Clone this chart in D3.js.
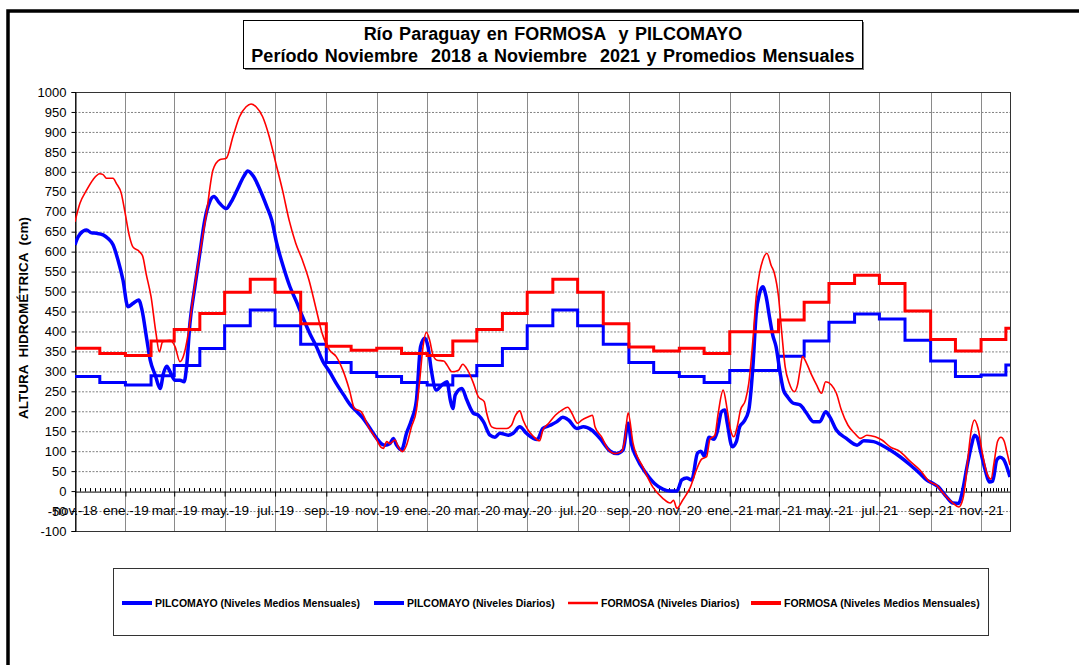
<!DOCTYPE html>
<html><head><meta charset="utf-8">
<script src="https://cdn.jsdelivr.net/npm/d3@7"></script>
<style>
html,body{margin:0;padding:0;background:#fff;}
svg{display:block;font-family:Arial,"Liberation Sans",sans-serif;}
</style></head><body>
<svg id="chart" width="1079" height="665"></svg>
<script>
// ---------- DATA ----------
const titleLines = ["Río Paraguay en FORMOSA  y PILCOMAYO",
                    "Período Noviembre  2018 a Noviembre  2021 y Promedios Mensuales"];
const yTitle = "ALTURA  HIDROMÉTRICA  (cm)";

const months = ["2018-11","2018-12",
  "2019-01","2019-02","2019-03","2019-04","2019-05","2019-06","2019-07","2019-08","2019-09","2019-10","2019-11","2019-12",
  "2020-01","2020-02","2020-03","2020-04","2020-05","2020-06","2020-07","2020-08","2020-09","2020-10","2020-11","2020-12",
  "2021-01","2021-02","2021-03","2021-04","2021-05","2021-06","2021-07","2021-08","2021-09","2021-10","2021-11","2021-12"];

const pilMonthly = [287,272,
  266,289,315,357,414,454,414,368,322,297,287,272,
  266,289,315,357,414,454,414,368,322,297,287,272,
  302,302,338,376,423,444,431,378,326,287,291,316];

const forMonthly = [358,345,
  340,376,405,445,498,531,498,419,363,353,358,345,
  340,376,405,445,498,531,498,419,361,351,358,345,
  399,399,429,473,520,541,520,451,380,351,380,408];

const pilDaily = [
 ["2018-11-01",617],["2018-11-03",629],["2018-11-07",644],["2018-11-15",654],["2018-11-21",647],["2018-11-27",646],
 ["2018-12-05",642],["2018-12-11",633],["2018-12-17",617],["2018-12-23",579],["2018-12-29",529],
 ["2019-01-04",462],["2019-01-10",470],["2019-01-17",479],["2019-01-21",454],["2019-01-27",378],["2019-01-31",328],
 ["2019-02-06",291],["2019-02-12",257],["2019-02-16",295],["2019-02-20",313],["2019-02-24",299],
 ["2019-03-02",278],["2019-03-08",278],["2019-03-13",274],["2019-03-16",312],["2019-03-20",420],["2019-03-26",512],
 ["2019-04-01",596],["2019-04-07",679],["2019-04-13",725],["2019-04-18",738],["2019-04-25",721],
 ["2019-05-03",708],["2019-05-09",725],["2019-05-16",754],["2019-05-24",788],["2019-05-29",802],
 ["2019-06-05",788],["2019-06-13",754],["2019-06-21",713],["2019-06-27",679],
 ["2019-07-03",621],["2019-07-11",562],["2019-07-19",512],["2019-07-27",474],
 ["2019-08-04",433],["2019-08-12",395],["2019-08-20",362],["2019-08-28",324],
 ["2019-09-05",299],["2019-09-13",270],["2019-09-22",241],["2019-09-30",216],
 ["2019-10-06",203],["2019-10-14",186],["2019-10-24",157],
 ["2019-11-01",132],["2019-11-07",118],["2019-11-11",115],["2019-11-17",119],["2019-11-21",132],["2019-11-25",115],
 ["2019-12-01",103],["2019-12-07",145],["2019-12-13",178],["2019-12-19",228],["2019-12-24",362],["2019-12-29",383],
 ["2020-01-02",362],["2020-01-06",303],["2020-01-12",253],["2020-01-19",266],["2020-01-25",274],["2020-01-29",228],
 ["2020-02-01",207],["2020-02-04",241],["2020-02-12",257],["2020-02-18",228],["2020-02-26",195],
 ["2020-03-03",190],["2020-03-09",174],["2020-03-17",140],["2020-03-23",135],["2020-03-29",145],
 ["2020-04-08",140],["2020-04-14",145],["2020-04-22",161],["2020-04-30",145],
 ["2020-05-13",129],["2020-05-20",157],["2020-05-29",165],
 ["2020-06-06",174],["2020-06-13",185],["2020-06-20",178],["2020-06-30",157],
 ["2020-07-08",161],["2020-07-18",153],["2020-07-28",132],
 ["2020-08-09",101],["2020-08-17",94],["2020-08-25",103],["2020-08-31",170],
 ["2020-09-04",119],["2020-09-10",85],["2020-09-22",44],
 ["2020-10-02",19],["2020-10-12",5],["2020-10-22",0],["2020-10-29",0],
 ["2020-11-04",28],["2020-11-10",33],["2020-11-16",28],["2020-11-23",95],["2020-11-27",100],
 ["2020-12-01",88],["2020-12-07",135],["2020-12-13",130],["2020-12-17",150],["2020-12-22",199],["2020-12-26",203],["2020-12-29",170],
 ["2021-01-04",111],["2021-01-09",124],["2021-01-13",161],["2021-01-18",174],["2021-01-24",203],["2021-01-29",312],
 ["2021-02-02",445],["2021-02-06",495],["2021-02-10",512],["2021-02-14",487],["2021-02-18",437],["2021-02-22",391],["2021-02-26",362],
 ["2021-03-03",295],["2021-03-07",253],["2021-03-12",236],["2021-03-19",220],["2021-03-27",216],
 ["2021-04-04",195],["2021-04-12",174],["2021-04-20",174],["2021-04-27",199],
 ["2021-05-02",186],["2021-05-10",153],["2021-05-22",132],
 ["2021-06-04",115],["2021-06-12",126],["2021-06-24",124],
 ["2021-07-04",115],["2021-07-14",103],["2021-07-26",86],
 ["2021-08-07",66],["2021-08-19",44],["2021-08-27",28],
 ["2021-09-04",19],["2021-09-10",11],["2021-09-20",-14],["2021-09-28",-30],
 ["2021-10-05",-31],["2021-10-09",-5],["2021-10-15",61],["2021-10-21",120],["2021-10-24",140],["2021-10-27",135],["2021-10-31",103],
 ["2021-11-06",53],["2021-11-11",23],["2021-11-15",25],["2021-11-20",78],["2021-11-24",85],["2021-11-28",80],
 ["2021-12-06",35]
];

const forDaily = [
 ["2018-11-01",675],["2018-11-07",721],["2018-11-15",754],["2018-11-23",781],
 ["2018-12-01",795],["2018-12-05",793],["2018-12-09",784],["2018-12-17",784],["2018-12-21",771],["2018-12-27",746],["2018-12-31",704],
 ["2019-01-06",637],["2019-01-10",612],["2019-01-18",600],["2019-01-22",588],["2019-01-26",545],
 ["2019-02-01",487],["2019-02-07",395],["2019-02-11",349],["2019-02-15",374],["2019-02-24",378],
 ["2019-03-02",362],["2019-03-08",324],["2019-03-12",337],["2019-03-18",395],["2019-03-24",487],
 ["2019-04-01",596],["2019-04-09",696],["2019-04-17",805],["2019-04-25",830],
 ["2019-05-03",834],["2019-05-11",888],["2019-05-19",938],["2019-05-27",963],
 ["2019-06-02",970],["2019-06-08",963],["2019-06-16",938],["2019-06-24",888],
 ["2019-07-02",821],["2019-07-10",754],["2019-07-18",679],["2019-07-26",621],
 ["2019-08-03",579],["2019-08-11",529],["2019-08-19",462],["2019-08-27",395],
 ["2019-09-05",353],["2019-09-13",337],["2019-09-21",303],["2019-09-29",253],
 ["2019-10-05",207],["2019-10-13",199],["2019-10-23",157],["2019-10-31",132],
 ["2019-11-06",110],["2019-11-09",107],["2019-11-13",124],["2019-11-17",119],["2019-11-23",128],["2019-11-27",111],
 ["2019-12-02",99],["2019-12-07",115],["2019-12-13",161],["2019-12-19",203],["2019-12-23",278],["2019-12-27",362],["2019-12-31",398],
 ["2020-01-04",378],["2020-01-08",341],["2020-01-13",328],["2020-01-21",326],["2020-01-25",316],["2020-01-31",299],
 ["2020-02-08",303],["2020-02-13",318],["2020-02-19",303],["2020-02-26",270],
 ["2020-03-03",236],["2020-03-10",224],["2020-03-13",195],["2020-03-19",161],["2020-03-25",157],
 ["2020-04-06",157],["2020-04-12",165],["2020-04-16",186],["2020-04-22",201],["2020-04-26",178],
 ["2020-05-02",153],["2020-05-08",138],["2020-05-16",126],["2020-05-20",153],["2020-05-27",170],
 ["2020-06-04",190],["2020-06-12",203],["2020-06-19",210],["2020-06-24",195],
 ["2020-07-01",170],["2020-07-06",178],["2020-07-14",186],["2020-07-19",190],["2020-07-22",161],["2020-07-30",136],
 ["2020-08-07",104],["2020-08-15",94],["2020-08-23",99],["2020-08-27",128],["2020-08-31",196],
 ["2020-09-06",120],["2020-09-18",60],["2020-09-30",10],
 ["2020-10-12",-18],["2020-10-21",-30],["2020-10-25",-23],["2020-10-29",-43],
 ["2020-11-05",-23],["2020-11-09",-10],["2020-11-14",8],["2020-11-22",55],["2020-11-28",80],
 ["2020-12-04",86],["2020-12-08",130],["2020-12-14",140],["2020-12-18",195],["2020-12-24",253],["2020-12-29",203],
 ["2021-01-02",153],["2021-01-06",136],["2021-01-10",161],["2021-01-14",203],["2021-01-20",228],["2021-01-24",270],["2021-01-29",378],
 ["2021-02-02",487],["2021-02-06",546],["2021-02-10",579],["2021-02-15",596],["2021-02-20",566],["2021-02-24",546],
 ["2021-03-01",487],["2021-03-05",395],["2021-03-09",312],["2021-03-14",270],["2021-03-20",249],["2021-03-24",266],["2021-03-27",303],["2021-03-30",337],
 ["2021-04-04",320],["2021-04-10",291],["2021-04-16",266],["2021-04-22",245],["2021-04-27",274],
 ["2021-05-04",266],["2021-05-10",245],["2021-05-16",203],["2021-05-24",165],
 ["2021-06-01",145],["2021-06-08",132],["2021-06-16",140],["2021-06-26",136],
 ["2021-07-04",128],["2021-07-14",111],["2021-07-26",99],
 ["2021-08-07",75],["2021-08-19",53],["2021-08-31",23],
 ["2021-09-08",15],["2021-09-16",-5],["2021-09-28",-30],
 ["2021-10-05",-40],["2021-10-10",-20],["2021-10-13",20],["2021-10-16",80],["2021-10-20",150],["2021-10-24",178],["2021-10-28",160],
 ["2021-11-03",90],["2021-11-08",45],["2021-11-13",30],["2021-11-17",75],["2021-11-21",125],["2021-11-25",135],["2021-11-29",125],
 ["2021-12-02",100],["2021-12-06",65]
];

const xStart = "2018-11-01", xEnd = "2021-12-06";
const xTickDates = ["2018-11-01","2019-01-01","2019-03-01","2019-05-01","2019-07-01","2019-09-01",
  "2019-11-01","2020-01-01","2020-03-01","2020-05-01","2020-07-01","2020-09-01",
  "2020-11-01","2021-01-01","2021-03-01","2021-05-01","2021-07-01","2021-09-01","2021-11-01"];
const xTickLabels = ["nov.-18","ene.-19","mar.-19","may.-19","jul.-19","sep.-19",
  "nov.-19","ene.-20","mar.-20","may.-20","jul.-20","sep.-20",
  "nov.-20","ene.-21","mar.-21","may.-21","jul.-21","sep.-21","nov.-21"];
const yTicks = [-100,-50,0,50,100,150,200,250,300,350,400,450,500,550,600,650,700,750,800,850,900,950,1000];

const legendLabels = ["PILCOMAYO (Niveles Medios Mensuales)","PILCOMAYO (Niveles Diarios)",
                      "FORMOSA (Niveles Diarios)","FORMOSA (Niveles Medios Mensuales)"];

// ---------- CHART ----------
const svg = d3.select("#chart");
const pDay = d3.utcParse("%Y-%m-%d"), pMonth = d3.utcParse("%Y-%m");
const L = 75, R = 1010, T = 92, B = 531;
const x = d3.scaleUtc().domain([pDay(xStart), pDay(xEnd)]).range([L, R]);
const y = d3.scaleLinear().domain([-100, 1000]).range([B, T]);

svg.append("rect").attr("width",1079).attr("height",665).attr("fill","#fff");
// outer frame
svg.append("path").attr("d","M8,665V11H1079").attr("fill","none").attr("stroke","#000").attr("stroke-width",3.5);

// title box
svg.append("rect").attr("x",245).attr("y",22).attr("width",619).attr("height",48).attr("fill","#777");
svg.append("rect").attr("x",243.5).attr("y",20.5).attr("width",619).attr("height",48).attr("fill","#fff").attr("stroke","#000");
svg.append("g").selectAll("text").data(titleLines).join("text")
  .attr("x",553).attr("y",(d,i)=>40+i*22).attr("text-anchor","middle")
  .attr("font-weight","bold").attr("font-size",18).attr("word-spacing",1.5)
  .style("white-space","pre").text(d=>d);

// grid
const grid = svg.append("g");
grid.selectAll("line.h").data(yTicks.filter(v=>v!==0 && v!==-100 && v!==1000)).join("line")
  .attr("x1",L).attr("x2",R).attr("y1",d=>y(d)+0.5).attr("y2",d=>y(d)+0.5)
  .attr("stroke","#808080").attr("stroke-dasharray","2,1.5");
grid.selectAll("line.v").data(xTickDates.slice(1)).join("line")
  .attr("x1",d=>Math.round(x(pDay(d)))+0.5).attr("x2",d=>Math.round(x(pDay(d)))+0.5)
  .attr("y1",T).attr("y2",B).attr("stroke","#8a8a8a");
svg.append("rect").attr("x",L+0.5).attr("y",T+0.5).attr("width",R-L).attr("height",B-T)
  .attr("fill","none").attr("stroke","#333");

// y axis
const yAx = svg.append("g").attr("transform",`translate(${L+0.5},0)`)
  .call(d3.axisLeft(y).tickValues(yTicks).tickSize(4).tickPadding(5).tickFormat(d=>d));
yAx.select(".domain").attr("stroke","#000");
yAx.selectAll("text").attr("font-size",13).attr("font-family","Arial, 'Liberation Sans', sans-serif").attr("fill","#000");

// x axis at 0
const xAx = svg.append("g").attr("transform",`translate(0,${y(0)+0.5})`)
  .call(d3.axisBottom(x).tickValues(xTickDates.map(pDay)).tickSizeInner(5).tickSizeOuter(0).tickPadding(9)
    .tickFormat((d,i)=>xTickLabels[i]));
xAx.select(".domain").attr("stroke","#000");
xAx.selectAll("text").attr("font-size",13.5).attr("font-family","Arial, 'Liberation Sans', sans-serif").attr("fill","#000");
// minor ticks
const minor = [];
for (let i=0;i<xTickDates.length;i++){
  const a = x(pDay(xTickDates[i]));
  const b = i<xTickDates.length-1 ? x(pDay(xTickDates[i+1])) : R;
  const n = 10;
  for (let k=1;k<n;k++){ const v=a+(b-a)*k/n; if(v<R-1) minor.push(v); }
}
svg.append("g").selectAll("line").data(minor).join("line")
  .attr("x1",d=>Math.round(d)+0.5).attr("x2",d=>Math.round(d)+0.5)
  .attr("y1",y(0)-3).attr("y2",y(0)+0.5).attr("stroke","#000");

// y title
svg.append("text").attr("transform","translate(28,318) rotate(-90)").attr("text-anchor","middle")
  .attr("font-weight","bold").attr("font-size",13.5).style("white-space","pre").text(yTitle);

// series
svg.append("clipPath").attr("id","clip").append("rect").attr("x",L).attr("y",T-2).attr("width",R-L).attr("height",B-T+2);
const plot = svg.append("g").attr("clip-path","url(#clip)");
const endD = pDay(xEnd);
const stepData = arr => months.map((m,i)=>({d:pMonth(m), v:arr[i]})).concat([{d:endD, v:arr[arr.length-1]}]);
const stepLine = d3.line().x(d=>x(d.d)).y(d=>y(d.v)).curve(d3.curveStepAfter);
const dayLine = d3.line().x(d=>x(pDay(d[0]))).y(d=>y(d[1])).curve(d3.curveMonotoneX);

plot.append("path").attr("d",stepLine(stepData(pilMonthly))).attr("fill","none").attr("stroke","#0000ff").attr("stroke-width",3);
plot.append("path").attr("d",dayLine(pilDaily)).attr("fill","none").attr("stroke","#0000ff").attr("stroke-width",3.5).attr("stroke-linejoin","round");
plot.append("path").attr("d",dayLine(forDaily)).attr("fill","none").attr("stroke","#ff0000").attr("stroke-width",1.6).attr("stroke-linejoin","round");
plot.append("path").attr("d",stepLine(stepData(forMonthly))).attr("fill","none").attr("stroke","#ff0000").attr("stroke-width",3);

// legend
svg.append("rect").attr("x",113.5).attr("y",568.5).attr("width",875).attr("height",67).attr("fill","#fff").attr("stroke","#333");
const legX = [122, 374, 568, 751];
const legC = ["#0000ff","#0000ff","#ff0000","#ff0000"];
const legW = [4,4,2.5,4];
const lg = svg.append("g").selectAll("g").data(legendLabels).join("g")
  .attr("transform",(d,i)=>`translate(${legX[i]},603)`);
lg.append("line").attr("x1",0).attr("x2",30).attr("y1",0).attr("y2",0)
  .attr("stroke",(d,i)=>legC[i]).attr("stroke-width",(d,i)=>legW[i]);
lg.append("text").attr("x",33).attr("y",3.8).attr("font-size",10.5).attr("font-weight","bold").text(d=>d);
</script>
</body></html>
